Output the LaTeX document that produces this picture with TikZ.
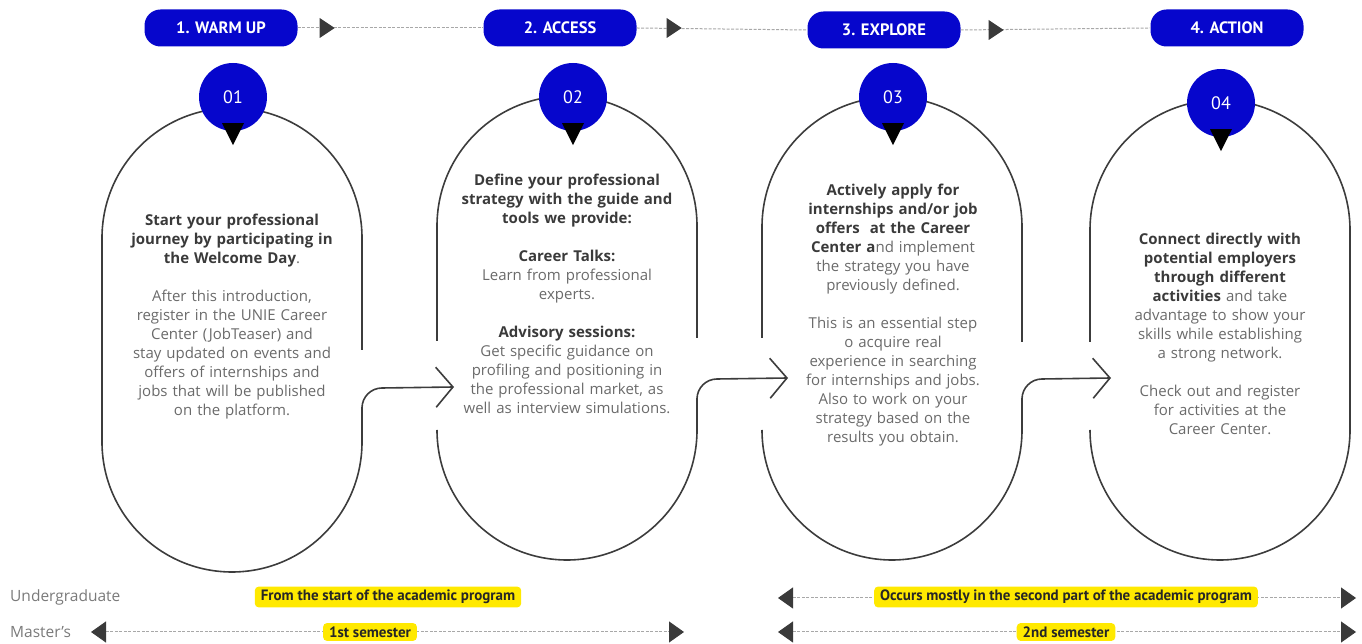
\documentclass[tikz,border=0pt]{standalone}
\usepackage{fontspec}
\setmainfont{Open Sans}
\newfontfamily\tagfont{PT Sans}
\usetikzlibrary{arrows.meta}
\usetikzlibrary{calc}
\usetikzlibrary{positioning}

\definecolor{uniblue}{RGB}{6,6,204}
\definecolor{headgray}{HTML}{3A3A3A}
\definecolor{bodygray}{HTML}{6A6A6A}
\definecolor{labelgray}{HTML}{7A7A7A}
\definecolor{ovalgray}{HTML}{3C3C3C}
\definecolor{dashgray}{HTML}{A8A8A8}
\definecolor{tipgray}{HTML}{3A3A3A}
\definecolor{hiyellow}{HTML}{FFE900}

\newcommand{\headline}[1]{{\bfseries\color{headgray}#1}}

\begin{document}
\begin{tikzpicture}[x=1pt,y=1pt]
  \tikzset{
    pill/.style={fill=uniblue, text=white, rounded corners=16pt,
      minimum width=153pt, minimum height=37pt,
      font=\tagfont\bfseries\fontsize{16.5}{16.5}\selectfont},
    stepnum/.style={circle, fill=uniblue, text=white, minimum size=68pt,
      inner sep=0pt, font=\tagfont\fontsize{18}{18}\selectfont},
    ovaltext/.style={anchor=north, align=center, text width=256pt,
      inner sep=0pt, text=bodygray, font=\fontsize{15}{19}\selectfont},
    ovalline/.style={draw=ovalgray, line width=1.6pt},
    barb/.style={->, >={Straight Barb[length=17pt,width=40pt]}},
    hdrline/.style={draw=dashgray, line width=1pt, dash pattern=on 3pt off 1.5pt},
    timeline/.style={hdrline, <->,
      >={Triangle[length=15pt,width=21pt,color=tipgray]}},
    yellowtag/.style={fill=hiyellow, rounded corners=4pt, inner xsep=6pt,
      inner ysep=3.5pt, text=black!85,
      font=\tagfont\bfseries\fontsize{15}{15}\selectfont},
    rowlabel/.style={anchor=west, text=labelgray, inner sep=0pt,
      font=\fontsize{15.5}{15.5}\selectfont},
  }
  \useasboundingbox (0,0) rectangle (1362,644);

  % header
  \node[pill] (p1) at (221,616) {1. WARM UP};
  \node[pill] (p2) at (560,616) {2. ACCESS};
  \node[pill] (p3) at (884,614) {3. EXPLORE};
  \node[pill] (p4) at (1227,616) {4. ACTION};
  \draw[hdrline] (p1.east) -- (p2.west);
  \draw[hdrline] (p2.east) -- (p3.west);
  \draw[hdrline] (p3.east) -- (p4.west);
  \fill[tipgray] ($(p1.east)+(22,10)$) -- ++(15,-10) -- ++(-15,-10) -- cycle;
  \fill[tipgray] ($(p2.east)+(30,10)$) -- ++(15,-10) -- ++(-15,-10) -- cycle;
  \fill[tipgray] ($(p3.east)+(28,10)$) -- ++(15,-10) -- ++(-15,-10) -- cycle;

  % ovals and the arrows between them
  \coordinate (a1) at (454,257);
  \coordinate (a2) at (788,266);
  \coordinate (a3) at (1111,266);
  \draw[ovalline] (362,294) -- (362,406) arc[start angle=0,end angle=180,radius=130]
    -- (102,202) arc[start angle=180,end angle=360,radius=130] -- (362,237);
  \draw[ovalline, barb] (362,236) arc[start angle=180,end angle=90,radius=20] -- (a1);
  \draw[ovalline] (697,306) -- (697,418) arc[start angle=0,end angle=180,radius=130] -- (437,303);
  \draw[ovalline] (437,214) arc[start angle=180,end angle=360,radius=130] -- (697,246);
  \draw[ovalline, barb] (697,245) arc[start angle=180,end angle=90,radius=20] -- (a2);
  \draw[ovalline] (1022,302) -- (1022,417) arc[start angle=0,end angle=180,radius=130] -- (762,306);
  \draw[ovalline] (762,214) arc[start angle=180,end angle=360,radius=130] -- (1022,246);
  \draw[ovalline, barb] (1022,245) arc[start angle=180,end angle=90,radius=20] -- (a3);
  \draw[ovalline] (1090,302) -- (1090,414) arc[start angle=180,end angle=0,radius=130]
    -- (1350,214) arc[start angle=0,end angle=-180,radius=130];

  % numbers
  \node[stepnum] (c1) at (233,547) {01};
  \node[stepnum] (c2) at (573,547) {02};
  \node[stepnum] (c3) at (893,547) {03};
  \node[stepnum] (c4) at (1221,541) {04};
  \fill ($(c1.south)+(-11,8)$) -- ++(22,0) -- ++(-11,-22) -- cycle;
  \fill ($(c2.south)+(-11,8)$) -- ++(22,0) -- ++(-11,-22) -- cycle;
  \fill ($(c3.south)+(-11,8)$) -- ++(22,0) -- ++(-11,-22) -- cycle;
  \fill ($(c4.south)+(-11,8)$) -- ++(22,0) -- ++(-11,-22) -- cycle;

  % texts
  \node[ovaltext] (t1) at (232,430) {%
    \headline{Start your professional}\\
    \headline{journey by participating in}\\
    \headline{the Welcome Day}.\\[19pt]
    After this introduction,\\
    register in the UNIE Career\\
    Center (JobTeaser) and\\
    stay updated on events and\\
    offers of internships and\\
    jobs that will be published\\
    on the platform.};
  \node[ovaltext] (t2) at (567,470) {%
    \headline{Define your professional}\\
    \headline{strategy with the guide and}\\
    \headline{tools we provide:}\\[19pt]
    \headline{Career Talks:}\\
    Learn from professional\\
    experts.\\[19pt]
    \headline{Advisory sessions:}\\
    Get specific guidance on\\
    profiling and positioning in\\
    the professional market, as\\
    well as interview simulations.};
  \node[ovaltext] (t3) at (893,460) {%
    \headline{Actively apply for}\\
    \headline{internships and/or job}\\
    \headline{offers~ at the Career}\\
    \headline{Center a}nd implement\\
    the strategy you have\\
    previously defined.\\[19pt]
    This is an essential step\\
    o acquire real\\
    experience in searching\\
    for internships and jobs.\\
    Also to work on your\\
    strategy based on the\\
    results you obtain.};
  \node[ovaltext] (t4) at (1220,411) {%
    \headline{Connect directly with}\\
    \headline{potential employers}\\
    \headline{through different}\\
    \headline{activities} and take\\
    advantage to show your\\
    skills while establishing\\
    a strong network.\\[19pt]
    Check out and register\\
    for activities at the\\
    Career Center.};

  % timing rows
  \node[rowlabel] (ug) at (10,47) {Undergraduate};
  \node[rowlabel] (ms) at (10,12) {Master's};
  \coordinate (u1) at (778,46);
  \coordinate (u2) at (1356,46);
  \coordinate (m1) at (91,12);
  \coordinate (m2) at (684,12);
  \coordinate (m3) at (778,12);
  \coordinate (m4) at (1356,12);
  \draw[timeline] (u1) -- (u2);
  \draw[timeline] (m1) -- (m2);
  \draw[timeline] (m3) -- (m4);
  \node[yellowtag] (y1) at (388,47) {From the start of the academic program};
  \node[yellowtag] (y2) at (1066,47) {Occurs mostly in the second part of the academic program};
  \node[yellowtag] (y3) at (370,12) {1st semester};
  \node[yellowtag] (y4) at (1066,12) {2nd semester};
\end{tikzpicture}
\end{document}
